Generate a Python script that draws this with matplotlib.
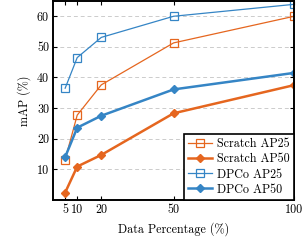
import matplotlib
matplotlib.use("Agg")
import matplotlib.pyplot as plt

plt.rcParams['font.family'] = ['cmr10', 'DejaVu Serif']
plt.rcParams['axes.formatter.use_mathtext'] = True
plt.rcParams['mathtext.fontset'] = 'cm'

percent = [5, 10, 20, 50, 100]
scratch_ap25 = [13.2, 27.7, 37.6, 51.3, 60.0]
scratch_ap50 = [2.4, 10.9, 14.7, 28.3, 37.5]
dpco_ap25 = [36.5, 46.5, 53.1, 60.0, 63.9]
dpco_ap50 = [14.0, 23.6, 27.5, 36.1, 41.5]
xticks = [5, 10, 20, 50, 100]
yticks = [10, 20, 30, 40, 50, 60]

orange = '#E5661F'
blue = '#3585C5'
fs = 8.7

fig = plt.figure(figsize=(3.07, 2.40), dpi=100)
ax = fig.add_axes([0.173, 0.167, 0.785, 0.829])

ax.plot(percent, scratch_ap25, color=orange, lw=0.9, marker='s', ms=5.2,
        mfc='none', mec=orange, mew=0.9, label='Scratch AP25')
ax.plot(percent, scratch_ap50, color=orange, lw=1.8, marker='D', ms=4.3,
        mfc=orange, mec=orange, label='Scratch AP50')
ax.plot(percent, dpco_ap25, color=blue, lw=0.9, marker='s', ms=5.2,
        mfc='none', mec=blue, mew=0.9, label='DPCo AP25')
ax.plot(percent, dpco_ap50, color=blue, lw=1.8, marker='D', ms=4.3,
        mfc=blue, mec=blue, label='DPCo AP50')

ax.set_xlim(0, 100)
ax.set_ylim(0, 65)
ax.set_xticks(xticks)
ax.set_xticklabels([str(v) for v in xticks])
ax.set_yticks(yticks)
ax.set_yticklabels([str(v) for v in yticks])
ax.tick_params(direction='in', top=True, right=True, labelsize=fs,
               length=3, width=0.8, pad=3)
for s in ax.spines.values():
    s.set_linewidth(1.4)
ax.yaxis.grid(True, linestyle=(0, (4, 3)), color='#cccccc', lw=0.7)
ax.set_axisbelow(True)

ax.set_xlabel('Data Percentage (%)', fontsize=fs, labelpad=4)
ax.set_ylabel('mAP (%)', fontsize=fs, labelpad=4)

leg = ax.legend(loc='lower right', fontsize=fs, fancybox=False,
                framealpha=1, edgecolor='black', borderaxespad=0,
                handlelength=2.0, handletextpad=0.4, labelspacing=0.25,
                borderpad=0.35)
leg.get_frame().set_linewidth(1.2)

fig.savefig('out.png', dpi=100)
